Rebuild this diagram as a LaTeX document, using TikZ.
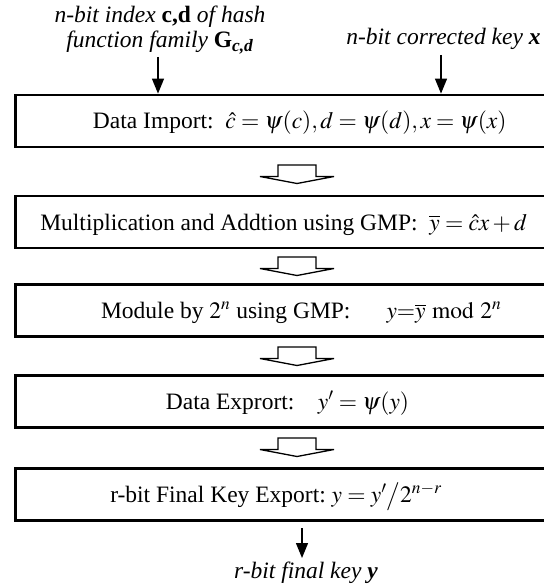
\documentclass[tikz,border=0pt]{standalone}
\usepackage{mathptmx}
\usepackage[no-math]{fontspec}
\setmainfont{Liberation Serif}
\usetikzlibrary{arrows.meta}

\begin{document}
\begin{tikzpicture}[x=1pt,y=-1pt,
    every node/.style={font=\fontsize{23.5}{25}\selectfont},
    stage/.style={draw,line width=2.8pt,minimum width=532pt,minimum height=52pt,inner sep=0pt,
      text height=18pt,text depth=2pt},
    feed/.style={line width=1.3pt,-{Triangle[length=15pt,width=12pt]}},
    hollow/.style={draw,fill=white,line width=1.3pt,line join=miter}]
      \useasboundingbox (0,0) rectangle (543,588);
      \node[stage] (import) at (281.75,121)
        {\hspace*{36pt}Data Import:\ \ $\hat{c}=\psi(c), d=\psi(d), x=\psi(x)$};
      \node[stage] (mult) at (281.75,222)
        {\hspace*{4pt}Multiplication and Addtion using GMP:\ \ $\overline{y}=\hat{c}x+d$};
      \node[stage] (module) at (281.75,310.5)
        {\hspace*{39pt}Module by $2^n$ using GMP:\hspace{36pt}$y{=}\overline{y}\bmod 2^n$};
      \node[stage] (export) at (281.75,401.5)
        {\hspace*{11.5pt}Data Exprort:\quad$y'=\psi(y)$};
      \node[stage] (final) at (281.75,494.5)
        {r-bit Final Key Export:\ $y = y'\big/2^{n-r}$\hspace*{11.5pt}};
      \node[align=center] (idx) at (160,30) {\textit{n-bit index} \textbf{c,d} \textit{of hash}\\\textit{function family} \textbf{G}\textsubscript{\textbf{\textit{c,d}}}};
      \node[anchor=base] (xkey) at (443.5,45) {\textit{n-bit corrected key} \textbf{\textit{x}}};
      \node[anchor=base] (ykey) at (306,578) {\textit{r-bit final key} \textbf{\textit{y}}};
      \coordinate (cdsrc) at (158,57);
      \coordinate (xsrc) at (441,55);
      \coordinate (yout) at (302,528);
      \coordinate (ysink) at (302,558);
      \begin{scope}[feed]
        \draw (cdsrc) -- (cdsrc |- import.north);
        \draw (xsrc) -- (xsrc |- import.north);
        \draw (yout) -- (ysink);
      \end{scope}
      \foreach \t in {165,257,347,438}
        \draw[hollow] (278,\t) -- (316,\t) -- (316,\t+11.5) -- (334,\t+11.5)
          -- (297,\t+18.5) -- (260,\t+11.5) -- (278,\t+11.5) -- cycle;
    \end{tikzpicture}
\end{document}
